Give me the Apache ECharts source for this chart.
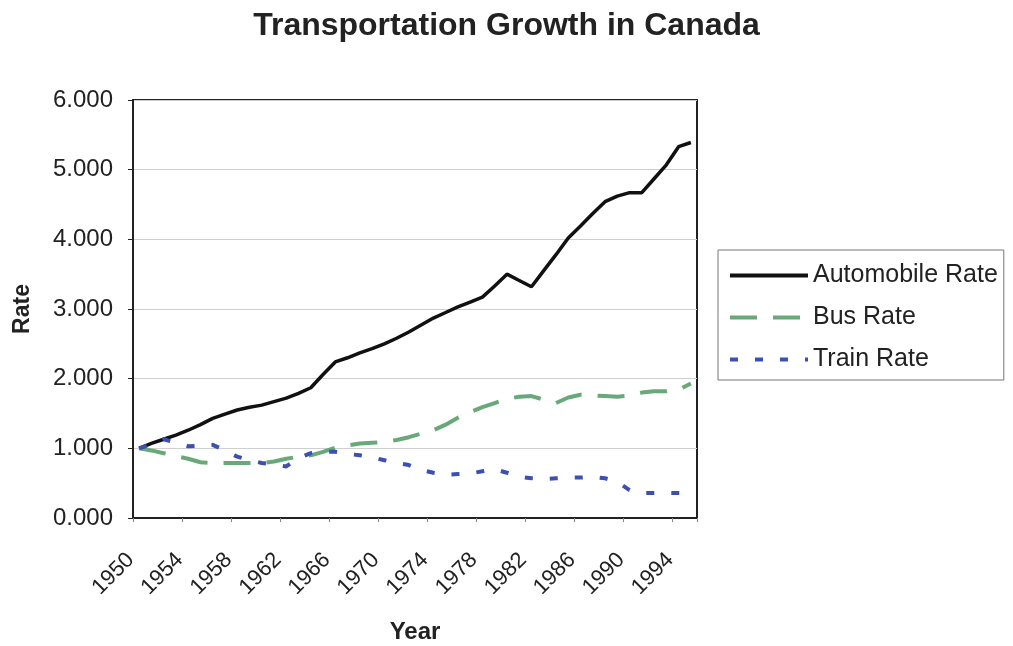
<!DOCTYPE html>
<html>
<head>
<meta charset="utf-8">
<script src="https://cdn.jsdelivr.net/npm/echarts@6/dist/echarts.min.js"></script>
<style>html,body{margin:0;padding:0;background:#fff;}#c{width:1013px;height:646px;}</style>
</head>
<body>
<div id="c"></div>
<script>
var years = [];
for (var y = 1950; y <= 1995; y++) years.push(String(y));

var automobileRate = [1.00,1.07,1.13,1.19,1.26,1.34,1.43,1.49,1.55,1.59,
  1.62,1.67,1.72,1.79,1.87,2.06,2.24,2.30,2.37,2.43,
  2.50,2.58,2.67,2.77,2.87,2.95,3.03,3.10,3.17,3.33,
  3.50,3.41,3.32,3.55,3.78,4.02,4.19,4.37,4.54,4.62,
  4.67,4.67,4.87,5.07,5.33,5.39];
var busRate = [1.00,0.97,0.93,0.89,0.85,0.80,0.79,0.79,0.79,0.79,
  0.79,0.81,0.85,0.88,0.90,0.95,1.01,1.04,1.07,1.08,
  1.09,1.12,1.16,1.21,1.26,1.34,1.44,1.52,1.59,1.65,
  1.71,1.74,1.75,1.70,1.65,1.73,1.77,1.76,1.75,1.74,
  1.76,1.80,1.82,1.82,1.84,1.93];
var trainRate = [1.00,1.06,1.13,1.08,1.03,1.04,1.05,0.97,0.88,0.83,
  0.79,0.77,0.74,0.86,0.93,0.95,0.95,0.92,0.90,0.87,
  0.83,0.79,0.76,0.69,0.65,0.62,0.63,0.64,0.67,0.70,
  0.65,0.59,0.57,0.56,0.57,0.58,0.58,0.59,0.57,0.52,
  0.40,0.36,0.36,0.36,0.36,0.36];
var yTicks = [0, 1, 2, 3, 4, 5, 6];

var font = '"Liberation Sans", Arial, sans-serif';
var chart = echarts.init(document.getElementById('c'), null, {renderer: 'canvas'});
chart.setOption({
  animation: false,
  backgroundColor: '#fff',
  title: {
    text: 'Transportation Growth in Canada',
    left: 'center',
    top: 5,
    textStyle: {fontFamily: font, fontSize: 32, fontWeight: 'bold', color: '#222'}
  },
  legend: {
    orient: 'vertical',
    left: 718,
    top: 250,
    itemWidth: 78,
    itemHeight: 14,
    itemGap: 17,
    padding: [13, 6, 8, 10],
    borderColor: '#777',
    borderWidth: 1,
    itemStyle: {opacity: 0},
    lineStyle: {width: 4},
    textStyle: {fontFamily: font, fontSize: 25, color: '#222'},
    data: ['Automobile Rate', 'Bus Rate', 'Train Rate']
  },
  grid: {
    left: 133, right: 316, top: 100, bottom: 128,
    outerBoundsMode: 'none', containLabel: false,
    show: true, borderColor: '#222', borderWidth: 2, backgroundColor: '#fff'
  },
  xAxis: {
    type: 'category',
    data: years,
    boundaryGap: true,
    name: 'Year',
    nameLocation: 'middle',
    nameGap: 102,
    nameTextStyle: {fontFamily: font, fontSize: 24, fontWeight: 'bold', color: '#222'},
    axisLine: {lineStyle: {color: '#222', width: 2}},
    axisTick: {show: true, interval: 3, length: 4, lineStyle: {color: '#888'}},
    axisLabel: {interval: 3, rotate: 45, margin: 30, padding: [0, 12, 0, 0],
      fontFamily: font, fontSize: 22, color: '#222'},
    splitLine: {show: false}
  },
  yAxis: {
    type: 'value',
    min: yTicks[0],
    max: yTicks[yTicks.length - 1],
    interval: 1,
    name: 'Rate',
    nameLocation: 'middle',
    nameGap: 99,
    nameTextStyle: {fontFamily: font, fontSize: 23, fontWeight: 'bold', color: '#222'},
    axisLine: {show: true, lineStyle: {color: '#222', width: 2}},
    axisTick: {show: true, length: 5, lineStyle: {color: '#222'}},
    axisLabel: {margin: 20, fontFamily: font, fontSize: 24, color: '#222',
      formatter: function (v) { return v.toFixed(3); }},
    splitLine: {show: true, lineStyle: {color: '#cfcfcf', width: 1}}
  },
  series: [
    {name: 'Automobile Rate', type: 'line', data: automobileRate, symbol: 'none',
      color: '#111', lineStyle: {color: '#111', width: 3.5}},
    {name: 'Bus Rate', type: 'line', data: busRate, symbol: 'none',
      color: '#69a979', lineStyle: {color: '#69a979', width: 4, type: [27, 16]}},
    {name: 'Train Rate', type: 'line', data: trainRate, symbol: 'none',
      color: '#3b50b0', lineStyle: {color: '#3b50b0', width: 4, type: [8, 17]}}
  ]
});
</script>
</body>
</html>
